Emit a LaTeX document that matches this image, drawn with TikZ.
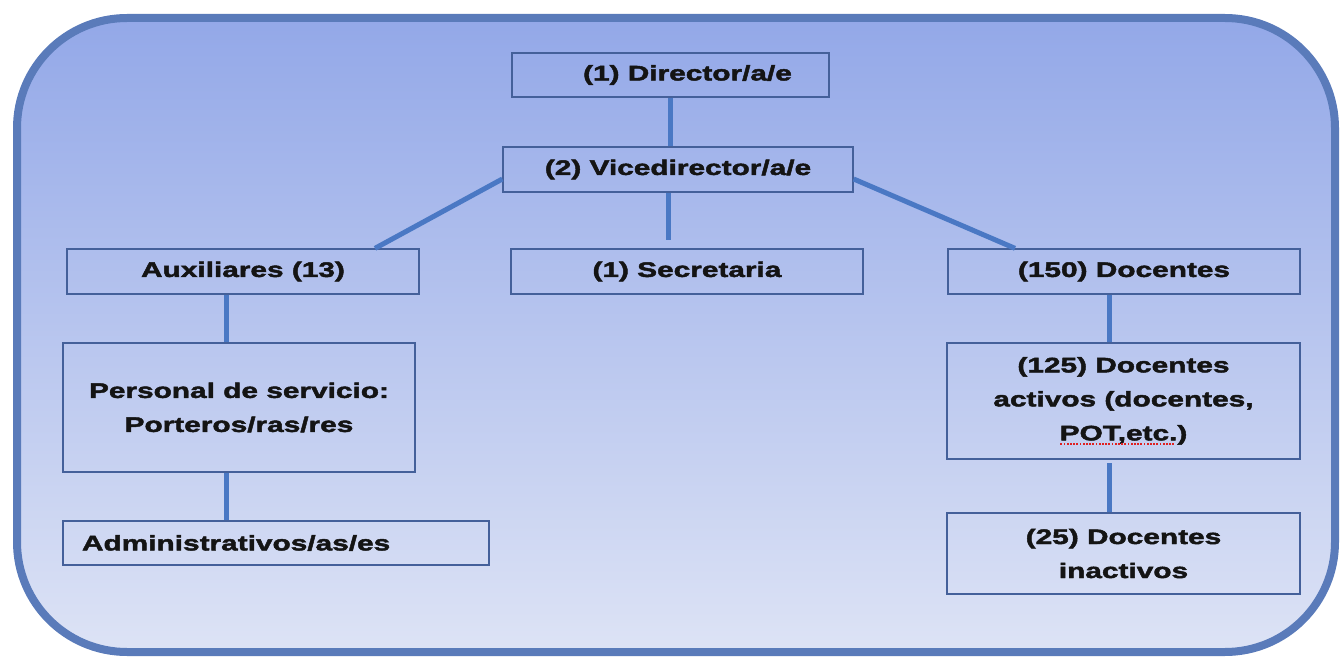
\documentclass[tikz,border=0pt]{standalone}
\usepackage{fontspec}
\newfontfamily\boxfont{Liberation Sans Bold}[FakeStretch=1.42, FakeBold=2.2]
\definecolor{bgtop}{HTML}{93A8E8}
\definecolor{bgbot}{HTML}{DDE3F5}
\definecolor{frame}{HTML}{5A7BBA}
\definecolor{boxc}{HTML}{44609A}
\definecolor{conn}{HTML}{4A78C4}
\definecolor{spellred}{HTML}{E02020}
\newcommand{\spellmark}[1]{\setbox0\hbox{#1}\rlap{\copy0}\raisebox{-4.5pt}{\textcolor{spellred}{\leaders\hbox to 3.2pt{\hss\rule{1.7pt}{1.7pt}\hss}\hskip\wd0}}}
\tikzset{
  box/.style={draw=boxc, line width=1.3pt, rectangle, inner sep=0pt, align=center,
    font=\boxfont\fontsize{21pt}{34pt}\selectfont, text=black!92},
  conline/.style={draw=conn, line width=5pt}
}
\begin{document}
\begin{tikzpicture}[x=1pt,y=-1pt]
\useasboundingbox (0,0) rectangle (1341,660);
\shade[top color=bgtop, bottom color=bgbot, rounded corners=110pt] (17,18) rectangle (1335,652);
\draw[frame, line width=8pt, rounded corners=110pt] (17,18) rectangle (1335,652);

\node[box, minimum width=317pt, minimum height=44pt] (dir) at (670.5,75) {\hspace*{34pt}(1) Director/a/e};
\node[box, minimum width=350pt, minimum height=45pt] (vice) at (678,169.5) {(2) Vicedirector/a/e};
\node[box, minimum width=352pt, minimum height=45pt] (aux) at (243,271.5) {Auxiliares (13)};
\node[box, minimum width=352pt, minimum height=45pt] (sec) at (687,271.5) {(1) Secretaria};
\node[box, minimum width=352pt, minimum height=129pt] (pers) at (239,407.5) {Personal de servicio:\\Porteros/ras/res};
\node[box, text width=388pt, inner xsep=19pt, minimum height=44pt, align=left] (adm) at (276,543) {Administrativos/as/es};
\node[box, minimum width=352pt, minimum height=45pt] (doc) at (1124,271.5) {(150) Docentes};
\node[box, minimum width=353pt, minimum height=116pt] (act) at (1123.5,401) {(125) Docentes\\activos (docentes,\\\spellmark{POT,etc.})};
\node[box, minimum width=353pt, minimum height=81pt] (inact) at (1123.5,553.5) {(25) Docentes\\inactivos};

\coordinate (secend) at (668,240);
\coordinate (actend) at (1109,463);

\draw[conline] (dir.south -| 670,0) -- (vice.north -| 670,0);
\draw[conline] (vice.south -| 668,0) -- (secend);
\draw[conline] (vice.west |- 0,179) -- (aux.north -| 375,0);
\draw[conline] (vice.east |- 0,179) -- (doc.north -| 1015,0);
\draw[conline] (aux.south -| 226,0) -- (pers.north -| 226,0);
\draw[conline] (pers.south -| 226,0) -- (adm.north -| 226,0);
\draw[conline] (doc.south -| 1109,0) -- (act.north -| 1109,0);
\draw[conline] (actend) -- (inact.north -| 1109,0);
\end{tikzpicture}
\end{document}
